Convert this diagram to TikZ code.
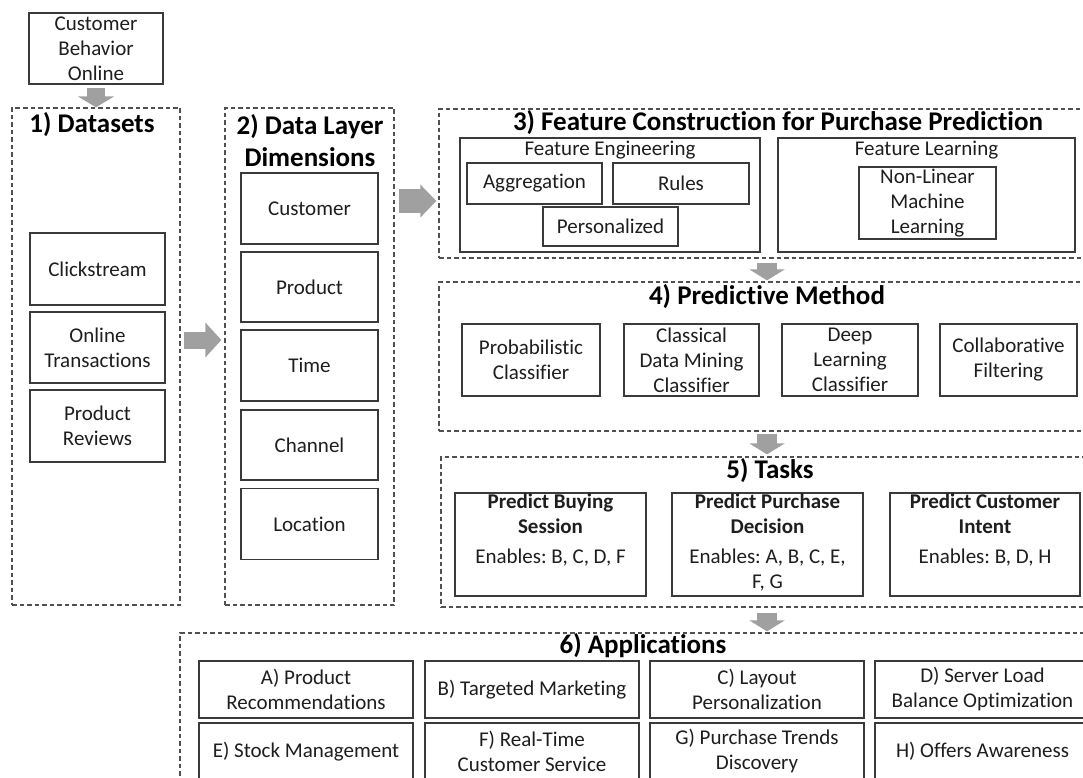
\documentclass[tikz,border=0pt]{standalone}
\usepackage{fontspec}
\setmainfont{Carlito}[Ligatures=NoCommon]
\usetikzlibrary{arrows.meta}
\definecolor{boxc}{HTML}{3A3A3A}
\definecolor{dashc}{HTML}{505050}
\definecolor{arrowc}{HTML}{A0A0A0}
\definecolor{textc}{HTML}{1E1E1E}
\newcommand\bodyfont{\fontsize{21}{25}\selectfont}
\newcommand\titlefont{\fontsize{27}{32}\selectfont\bfseries}
\frenchspacing
\begin{document}
\begin{tikzpicture}[x=1pt,y=-1pt,
 bx/.style={draw=boxc, line width=1.4pt, inner sep=0pt, align=center, font=\bodyfont, text=textc},
 grp/.style={draw=dashc, line width=1.3pt, dash pattern=on 4.5pt off 3pt, inner sep=0pt},
 ttl/.style={font=\titlefont, inner sep=0pt, align=center},
 lbl/.style={font=\bodyfont, inner sep=0pt, align=center, text=textc},
 sz/.style 2 args={minimum width=#1pt, minimum height=#2pt},
 barrow/.style n args={3}{draw=arrowc, line width=#1, -{Triangle[length=#3,width=#2]}},
]
\useasboundingbox (0,0) rectangle (1083,778);
\clip (0,0) rectangle (1083,778);
\fill[white] (0,0) rectangle (1083,778);

% source
\node[bx, sz={134}{71}] (cbo) at (96,48.5) {Customer\\Behavior\\Online};

% 1) Datasets
\node[grp, sz={168}{497}] (ds) at (96,356.5) {};
\node[ttl] (t1) at (92,125) {1) Datasets};
\node[bx, sz={135}{72}] (click) at (97.5,269) {Clickstream};
\node[bx, sz={135}{71}] (ot) at (97.5,347.5) {Online\\Transactions};
\node[bx, sz={135}{72}] (pr) at (97.5,426) {Product\\Reviews};

% 2) Data layer
\node[grp, sz={169}{497}] (dl) at (309.5,356.5) {};
\node[ttl] (t2) at (310,141) {2) Data Layer\\Dimensions};
\node[bx, sz={137}{71}] (cust) at (309.5,208.5) {Customer};
\node[bx, sz={137}{70}] (prod) at (309.5,287) {Product};
\node[bx, sz={137}{71}] (time) at (309.5,365.5) {Time};
\node[bx, sz={137}{70}] (chan) at (309.5,445) {Channel};
\node[bx, sz={137}{71}] (loc) at (309.5,524) {Location};

% 3) Feature construction
\node[grp, sz={651}{149}] (fc) at (764.5,183.5) {};
\node[ttl] (t3) at (778,123) {3) Feature Construction for Purchase Prediction};
\node[bx, sz={300}{114}] (fe) at (610,195) {};
\node[lbl] (fel) at (610,150) {Feature Engineering};
\node[bx, sz={135}{41}] (agg) at (534.5,183.5) {Aggregation};
\node[bx, sz={136}{41}] (rules) at (681,183.5) {Rules};
\node[bx, sz={135}{39}] (pers) at (610.5,226.5) {Personalized};
\node[bx, sz={297}{114}] (fl) at (926.5,195) {};
\node[lbl] (fll) at (926.5,150) {Feature Learning};
\node[bx, sz={137}{72}] (nlml) at (927.5,203) {Non-Linear\\Machine\\Learning};

% 4) Predictive method
\node[grp, sz={651}{149}] (pm) at (764.5,356.5) {};
\node[ttl] (t4) at (767,297) {4) Predictive Method};
\node[bx, sz={138}{72}] (prob) at (531,360) {Probabilistic\\Classifier};
\node[bx, sz={135}{72}] (cls) at (691.5,360) {Classical\\Data Mining\\Classifier};
\node[bx, sz={136}{72}] (deep) at (850,360) {Deep\\Learning\\Classifier};
\node[bx, sz={137}{72}] (coll) at (1008.5,360) {Collaborative\\Filtering};

% 5) Tasks
\node[grp, sz={649}{150}] (ts) at (765.5,532) {};
\node[ttl] (t5) at (770,471) {5) Tasks};
\node[bx, sz={191}{103}] (pbs) at (550.5,544.5) {};
\node[lbl] (pbst) at (550.5,530) {\textbf{Predict Buying}\\\textbf{Session}\\[5pt]Enables: B, C, D, F};
\node[bx, sz={191}{103}] (ppd) at (767.5,544.5) {};
\node[lbl] (ppdt) at (767.5,542) {\textbf{Predict Purchase}\\\textbf{Decision}\\[5pt]Enables: A, B, C, E,\\F, G};
\node[bx, sz={190}{103}] (pci) at (985,544.5) {};
\node[lbl] (pcit) at (985,530) {\textbf{Predict Customer}\\\textbf{Intent}\\[5pt]Enables: B, D, H};

% 6) Applications
\node[grp, sz={910}{157}] (ap) at (635,711.5) {};
\node[ttl] (t6) at (643,646) {6) Applications};
\node[bx, sz={214}{57}] (appa) at (306,689.5) {A) Product\\Recommendations};
\node[bx, sz={214}{57}] (appb) at (532,689.5) {B) Targeted Marketing};
\node[bx, sz={214}{57}] (appc) at (757,689.5) {C) Layout\\Personalization};
\node[bx, sz={215}{57}] (appd) at (982.5,689.5) {D) Server Load\\Balance Optimization};
\node[bx, sz={214}{57}] (appe) at (306,751.5) {E) Stock Management};
\node[bx, sz={214}{57}] (appf) at (532,751.5) {F) Real-Time\\Customer Service};
\node[bx, sz={214}{57}] (appg) at (757,751.5) {G) Purchase Trends\\Discovery};
\node[bx, sz={215}{57}] (apph) at (982.5,751.5) {H) Offers Awareness};

% block arrows
\draw[barrow={18pt}{36pt}{11pt}, shorten <=3pt] (cbo.south) -- (cbo.south |- ds.north);
\draw[barrow={17pt}{34pt}{16pt}, shorten <=3pt, shorten >=3pt] ([yshift=16.5pt]ds.east) -- ([yshift=16.5pt]dl.west);
\draw[barrow={24pt}{32pt}{16pt}, shorten <=4pt, shorten >=2pt] ([yshift=155.5pt]dl.east) -- ([yshift=-17.5pt]fc.west);
\draw[barrow={20pt}{35pt}{11pt}, shorten <=4pt, shorten >=1pt] (fc.south -| t4) -- (pm.north -| t4);
\draw[barrow={20pt}{35pt}{11pt}, shorten <=2pt, shorten >=2pt] (pm.south -| t4) -- (ts.north -| t4);
\draw[barrow={20pt}{35pt}{11pt}, shorten <=5pt, shorten >=1pt] (ts.south -| t4) -- (ap.north -| t4);
\end{tikzpicture}
\end{document}
